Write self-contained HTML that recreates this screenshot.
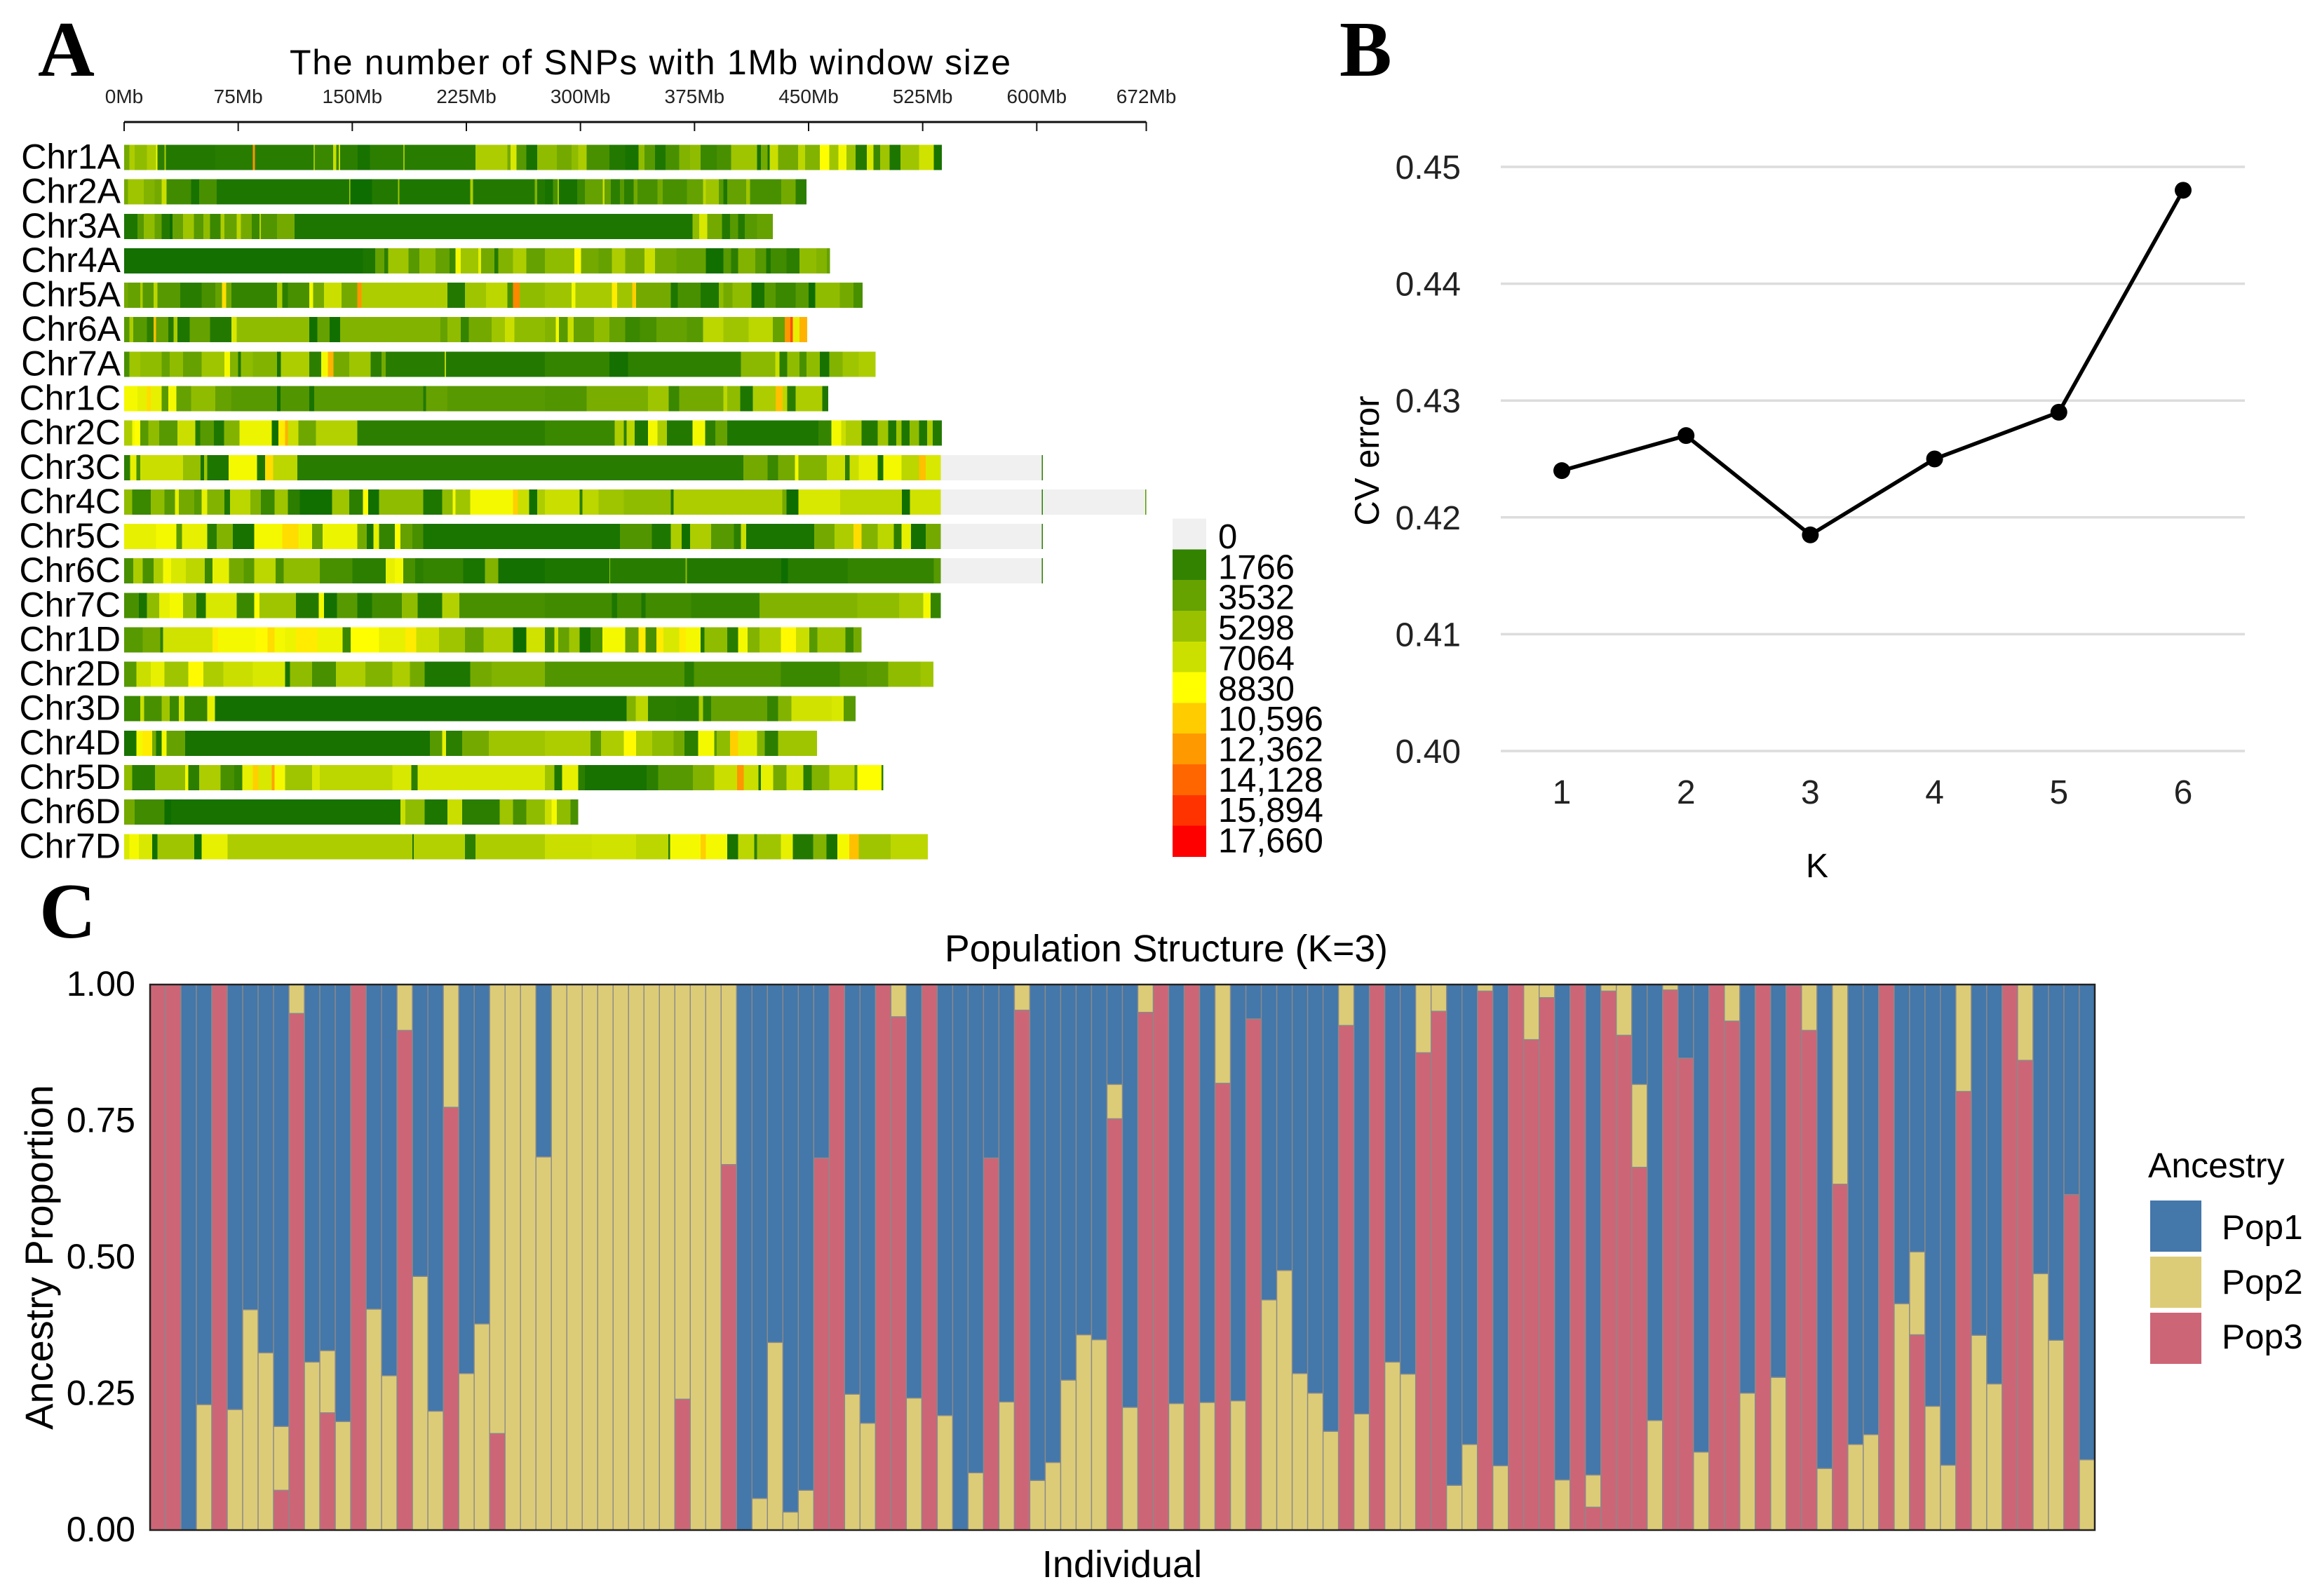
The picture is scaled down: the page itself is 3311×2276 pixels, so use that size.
<!DOCTYPE html>
<html lang="en">
<head>
<meta charset="utf-8">
<title>SNP density, CV error and population structure</title>
<style>
html,body{margin:0;padding:0;background:#fff;}
svg{display:block;font-family:"Liberation Sans",Arial,sans-serif;}
</style>
</head>
<body>
<svg id="figure" xmlns="http://www.w3.org/2000/svg" width="3311" height="2276" viewBox="0 0 3311 2276">
<rect x="0" y="0" width="3311" height="2276" fill="#fff"/>
<text x="54" y="108" font-family="'Liberation Serif',serif" font-weight="bold" font-size="112">A</text>
<text x="1910" y="108" font-family="'Liberation Serif',serif" font-weight="bold" font-size="112">B</text>
<text x="56" y="1337" font-family="'Liberation Serif',serif" font-weight="bold" font-size="112">C</text>
<g id="panelA">
<text x="927" y="106" text-anchor="middle" font-size="50" textLength="1028" lengthAdjust="spacing">The number of SNPs with 1Mb window size</text>
</g>
<g id="panelB">
<text x="2591" y="1251" text-anchor="middle" font-size="48">K</text>
<text transform="translate(1966,657) rotate(-90)" text-anchor="middle" font-size="49">CV error</text>
</g>
<g id="panelC">
<text x="1663" y="1371" text-anchor="middle" font-size="53.5">Population Structure (K=3)</text>
<text x="1600" y="2249" text-anchor="middle" font-size="54">Individual</text>
<text transform="translate(75,1793) rotate(-90)" text-anchor="middle" font-size="56">Ancestry Proportion</text>
<text x="3063" y="1679" font-size="50">Ancestry</text>
</g>
</svg>
<script>
/* ---------- Panel A: SNP density. Each run is [window end in Mb, SNP count in hundreds] ---------- */
const chromosomeNames = ["Chr1A","Chr2A","Chr3A","Chr4A","Chr5A","Chr6A","Chr7A","Chr1C","Chr2C","Chr3C","Chr4C","Chr5C","Chr6C","Chr7C","Chr1D","Chr2D","Chr3D","Chr4D","Chr5D","Chr6D","Chr7D"];
const mbTicks = [0,75,150,225,300,375,450,525,600,672];
const densityLegendValues = [0,17.66,35.32,52.98,70.64,88.3,105.96,123.62,141.28,158.94,176.6];
const densityLegendLabels = ["0","1766","3532","5298","7064","8830","10,596","12,362","14,128","15,894","17,660"];

const chr1A = [[3.5,40],[7,60],[15,50],[21,60],[22,85],[26.5,15],[27.5,60],[60,12],[84.5,14],[86,125],[124.5,14],[125.5,55],[137.5,20],[139.5,70],[141,20],[142,70],[153.5,15],[161.5,8],[183.5,15],[184.5,55],[231,14],[252,60],[254,40],[258,75],[264.5,30],[271.5,8],[284.5,50],[294.2,40],[298.6,50],[304,60],[319,25],[329.5,12],[338.3,8],[342,50],[349,30],[356,10],[365,25],[372,45],[379,50],[389.5,20],[399,25],[416,55],[418.6,8],[423,40],[424.4,8],[430,70],[443,40],[447.6,65],[457.4,45],[463.5,88],[469.7,55],[475,85],[481,55],[488.3,12],[492.6,75],[497,20],[503.3,55],[510.3,10],[522.6,55],[532.4,72],[537.6,8]];
const chr2A = [[2.6,40],[13,55],[20,45],[24.7,40],[28,70],[44,22],[49.4,8],[60.8,25],[148,10],[148.7,60],[163,5],[180,12],[181,55],[227.5,10],[229.3,60],[270,12],[271.6,45],[276.6,12],[282,8],[285,25],[285.8,60],[297.8,8],[303,20],[314.6,35],[315.8,70],[320,35],[326,15],[328.7,30],[335,15],[337.5,40],[350.7,25],[354,40],[370,25],[380.7,35],[382.4,65],[391,55],[394,30],[396.6,10],[409,35],[411.5,55],[432,25],[441.5,40],[448.6,15]];
const chr3A = [[8.8,10],[13,30],[20,50],[24.7,35],[30,12],[31.7,5],[38.8,35],[45.9,55],[52,30],[56.4,50],[63.5,20],[66,60],[74,35],[76.7,65],[83.8,40],[89,20],[90,65],[100.5,28],[112,40],[373.6,10],[378,50],[383.3,75],[393,40],[398.3,12],[403.6,30],[408,12],[416,30],[426.5,35]];
const chr4A = [[157,7],[165,10],[171,35],[173.7,15],[187,55],[194,30],[204.6,50],[214,35],[217.8,20],[221.3,85],[232.8,55],[234.6,80],[243.4,40],[246,12],[255.7,45],[264.5,60],[276.6,35],[296,50],[300.4,90],[312,40],[320.7,35],[329.5,60],[342,40],[349,70],[363,40],[382.4,35],[394,6],[399,30],[403.6,15],[415,45],[422,30],[425,10],[435.4,22],[444,15],[455,50],[462,45],[464,35]];
const chr5A = [[2.6,40],[10.6,35],[12.3,60],[19.4,30],[22,65],[37,30],[51,14],[60,25],[64.4,35],[67,100],[70.5,40],[100.5,18],[104,60],[107.6,15],[121.7,25],[124.3,85],[131.4,40],[142.9,70],[153.4,40],[156,125],[212.5,60],[224,12],[238,55],[252,65],[255.7,25],[260,130],[276.6,50],[281,55],[294.2,55],[296.8,85],[320.7,58],[324.2,95],[334,55],[336.6,105],[359.5,40],[364,10],[379,25],[391,10],[394,50],[400,40],[412.4,50],[421,8],[428.3,30],[441.5,20],[450,30],[454.4,5],[461,50],[470.6,50],[479.4,40],[485.6,25]];
const chr6A = [[3.5,30],[6,60],[15,30],[19.4,15],[21,110],[29,35],[32.6,12],[35,60],[43,10],[56.4,35],[70.5,12],[74,75],[121.7,50],[127,6],[135,35],[142,6],[170,45],[208,45],[212.5,35],[221.3,50],[226.6,18],[241.7,40],[250.4,55],[256.6,70],[276.6,50],[283.7,45],[285.8,85],[291.6,30],[295.6,70],[309,35],[319,50],[329.5,35],[339,20],[350,25],[370,35],[380.7,30],[394,65],[410.6,55],[426.5,65],[434.4,35],[438,125],[439.7,150],[444,80],[449,115]];
const chr7A = [[3.5,25],[10.6,55],[24.7,50],[30,35],[38.8,50],[51,35],[66,55],[69.7,85],[75,45],[76.7,10],[84.7,50],[100.5,45],[103,8],[121.7,60],[129.6,15],[134,85],[137.6,115],[148,40],[162,55],[169.3,15],[172,40],[210.8,14],[211.6,65],[276.6,12],[319,18],[331.3,7],[405.4,16],[428,48],[430.9,70],[436,15],[444,50],[448.5,25],[457.4,50],[463.5,8],[472.4,45],[483,55],[494,60]];
const chr1C = [[8.8,85],[15,80],[17.6,100],[24.7,80],[29,30],[34.4,85],[44,35],[60,50],[70.5,35],[100.5,30],[102.8,6],[121.7,28],[125,8],[196.6,30],[198.4,12],[212.5,35],[276.6,30],[304,28],[344.5,42],[358,55],[365,20],[382.4,40],[394,40],[396.6,65],[405,50],[413.4,10],[428.4,60],[433,110],[436,65],[441.5,14],[459,60],[463,10]];
const chr2C = [[5.3,60],[7,85],[10.6,88],[15.9,30],[23,50],[35,30],[46.7,70],[50,12],[59,30],[65.6,10],[75.8,45],[97,82],[101.4,6],[105.8,95],[107.6,115],[114.6,70],[126,38],[153.4,62],[276.6,15],[322.5,20],[328.6,60],[330.4,15],[335.7,65],[344.5,10],[350.7,85],[356.8,60],[373.6,12],[382,85],[388.6,15],[396.6,35],[456.5,10],[465,18],[471.5,85],[474.5,70],[484.7,60],[495.3,12],[502.3,55],[507.6,10],[511,55],[516.5,10],[522.6,50],[528,10],[531.5,60],[537.6,12]];
const chr3C = [[3.9,15],[8,80],[10.6,25],[38.8,70],[50.3,52],[52.6,8],[54.7,55],[68.8,10],[87.3,85],[92.6,10],[97.9,100],[113.8,65],[276.6,14],[407.1,14],[423,40],[430,20],[441,40],[443.3,85],[462,45],[474,70],[477,15],[483,70],[495.3,80],[499,8],[511,85],[522.6,65],[527,110],[537,75],[603.4,0],[604,14]];
const chr4C = [[5.3,50],[17.6,20],[26.5,50],[33.5,30],[36,80],[46,40],[51,30],[54.7,80],[66,45],[69.7,10],[83,65],[90,45],[98.8,20],[107.6,55],[115.5,15],[136.7,6],[148,55],[157,15],[160.5,90],[167.5,6],[196.6,50],[209,10],[216,50],[217.8,85],[227.5,55],[255.7,85],[259,105],[266.3,70],[271.6,6],[276.6,60],[299.5,70],[301.3,15],[312,65],[328.6,55],[359.5,50],[361.3,10],[432.8,60],[435.4,40],[443.4,5],[470.7,75],[511.3,65],[516.6,6],[537,72],[603.4,0],[604,14],[671.4,0],[672,30]];
const chr5C = [[21,80],[34.4,85],[38,30],[54.7,80],[60.8,14],[71.4,45],[85.5,8],[104,85],[114.6,100],[123.5,82],[130.5,35],[153.4,82],[159.6,40],[164,8],[167.5,80],[178,18],[181.7,88],[189.6,35],[196.6,25],[276.6,9],[326,9],[347,28],[359.5,10],[366.5,60],[372,6],[386,60],[401,30],[405.4,15],[409,70],[453.8,9],[467,40],[479.4,60],[484.7,100],[495.3,45],[506,65],[511,15],[517.4,80],[527,7],[537,40],[603.4,0],[604,14]];
const chr6C = [[6,25],[12.3,60],[19.4,25],[25.6,60],[30.9,85],[40.6,75],[53,65],[58,20],[69,80],[78.5,40],[85.5,30],[99.6,65],[105,25],[128.7,50],[150,25],[172,15],[178,80],[183.4,85],[191.3,25],[196.6,15],[223,18],[237.2,9],[246,45],[276.6,7],[319,10],[319.5,55],[369,14],[370,50],[432,12],[436.3,5],[475.9,14],[532.3,18],[537,30],[603.4,0],[604,14]];
const chr7C = [[9.7,25],[15,8],[23,50],[30,80],[38.8,85],[47.6,50],[53.8,10],[74,75],[85.5,20],[89,88],[98,55],[112.9,55],[127.9,12],[131.4,85],[140,7],[153.4,30],[163,10],[182.5,22],[193,50],[209,12],[220.5,62],[276.6,25],[320.7,22],[324.2,10],[340,22],[342.7,10],[372.7,22],[417.7,18],[482,45],[509.4,50],[525.3,58],[530.2,85],[537,18]];
const chr1D = [[12.3,30],[23.8,40],[25.6,15],[58,72],[61.7,95],[86.4,85],[94.4,90],[98.8,100],[105.8,85],[112.9,82],[127,95],[143.7,82],[149,20],[167.5,88],[185,80],[192,95],[207,70],[224,55],[236.3,35],[255.7,60],[264.5,5],[276.6,72],[282.8,20],[285.4,70],[292.5,35],[299.5,55],[306.6,8],[314.5,25],[329.5,85],[338.3,35],[342.7,95],[349.9,25],[354.5,95],[365,75],[369.2,95],[379,85],[381.5,10],[396.5,50],[403.6,14],[409.8,85],[417.8,45],[431.8,60],[441.7,90],[450.4,70],[455.7,30],[474.1,55],[479.4,20],[484.7,40]];
const chr2D = [[8,30],[17.6,70],[26.5,80],[42.3,55],[52,90],[65.3,60],[84.7,70],[105.8,75],[109,8],[123.5,50],[139.3,25],[147.3,60],[158.7,60],[176.4,45],[187.8,60],[197.5,40],[227.5,10],[241.6,40],[276.6,45],[368.3,28],[374.5,14],[431.8,28],[470.6,20],[488.2,28],[502.3,32],[523.5,50],[532,55]];
const chr3D = [[10.6,20],[13.2,70],[24.7,25],[30,55],[36,20],[39.7,75],[54.7,18],[59.6,80],[276.6,7],[330.4,7],[336.4,45],[344.3,65],[362.8,15],[377.9,14],[380.5,60],[385.8,15],[422.8,35],[429.9,18],[438.7,45],[465.3,72],[473,75],[481,30]];
const chr4D = [[8,8],[12.3,85],[18.5,95],[21,40],[24.7,10],[27.9,85],[40.2,35],[201,8],[209,30],[211.6,80],[222.2,15],[239.8,40],[276.6,55],[306.6,60],[313.6,30],[328.6,60],[336.6,90],[347.1,60],[361.3,50],[368.3,40],[377.4,15],[388,85],[389.6,30],[398.4,50],[403.6,105],[416,78],[421.2,45],[430,15],[455.6,55]];
const chr5D = [[5.3,50],[20.3,14],[40,50],[42.3,85],[49.4,15],[63.5,60],[72.3,25],[77.6,18],[84.7,80],[88.2,105],[97,75],[98.8,120],[105.8,85],[123.5,55],[128.7,75],[176.4,65],[188.7,75],[193,15],[276.6,75],[282.8,55],[288,10],[298.6,80],[303,15],[343.6,8],[351,15],[374,30],[388,45],[403,70],[407.3,125],[417,70],[418.6,10],[426.6,80],[435.4,40],[446.6,70],[452,14],[463.5,45],[480.3,65],[482,30],[498,88],[499,15]];
const chr6D = [[7,40],[26.5,22],[30.9,5],[181.7,8],[185,70],[197.5,50],[212.5,10],[222.2,70],[246.9,15],[255.7,55],[264.5,25],[276.6,50],[281,70],[284.5,85],[293.4,50],[298.6,25]];
const chr7D = [[3.5,75],[9.7,85],[18.5,75],[22,6],[46,55],[51,5],[68,80],[189.6,60],[190.5,10],[224,62],[231,15],[276.6,60],[307.5,70],[336.6,72],[357.7,65],[359,12],[378.9,85],[382.4,105],[396.5,85],[403.6,8],[414.2,65],[416,15],[431.8,55],[439.7,80],[452.9,12],[461.7,45],[468.8,8],[476.8,85],[483,110],[495.3,55],[504,55],[528.4,65]];
const chromosomeRuns = [chr1A,chr2A,chr3A,chr4A,chr5A,chr6A,chr7A,chr1C,chr2C,chr3C,chr4C,chr5C,chr6C,chr7C,chr1D,chr2D,chr3D,chr4D,chr5D,chr6D,chr7D];

/* ---------- Panel B: cross-validation error ---------- */
const kValues = [1,2,3,4,5,6];
const cvErrors = [0.424,0.427,0.4185,0.425,0.429,0.448];
const cvTicks = [0.40,0.41,0.42,0.43,0.44,0.45];

/* ---------- Panel C: ancestry proportion per individual ---------- */
const pop1Share = [0,0,1,.77,0,.779,.596,.675,.81,0,.692,.671,.801,0,.595,.717,0,.535,.782,0,.713,.622,0,0,0,.316,0,0,0,0,0,0,0,0,0,0,0,0,1,.942,.656,.967,.927,.318,0,.751,.804,0,0,.758,0,.79,1,.895,.318,.765,0,.909,.876,.725,.642,.651,.183,.775,0,0,.768,0,.766,0,.763,.063,.578,.524,.713,.749,.819,0,.787,0,.692,.714,0,0,.918,.843,0,.882,0,0,0,.908,0,.899,0,0,.183,.799,0,.135,.857,0,0,.749,0,.72,0,0,.887,0,.843,.825,0,.585,.49,.773,.881,0,.643,.732,0,0,.53,.652,.385,.871];
const pop2Share = [0,0,0,.23,0,.221,.404,.325,.117,.053,.308,.114,.199,0,.405,.283,.084,.465,.218,.225,.287,.378,.823,1,1,.684,1,1,1,1,1,1,1,1,.76,1,1,.33,0,.058,.344,.033,.073,0,0,.249,.196,0,.059,.242,0,.21,0,.105,0,.235,.047,.091,.124,.275,.358,.349,.063,.225,.051,0,.232,0,.234,.181,.237,0,.422,.476,.287,.251,.181,.075,.213,0,.308,.286,.125,.049,.082,.157,.012,.118,0,.101,.024,.092,0,.059,.012,.093,.152,.201,.01,0,.143,0,.067,.251,0,.28,.002,.084,.113,.366,.157,.175,0,.415,.152,.227,.119,.196,.357,.268,0,.139,.47,.348,0,.129];
const pop3Share = [1,1,0,0,1,0,0,0,.073,.947,0,.215,0,1,0,0,.916,0,0,.775,0,0,.177,0,0,0,0,0,0,0,0,0,0,0,.24,0,0,.67,0,0,0,0,0,.682,1,0,0,1,.941,0,1,0,0,0,.682,0,.953,0,0,0,0,0,.754,0,.949,1,0,1,0,.819,0,.937,0,0,0,0,0,.925,0,1,0,0,.875,.951,0,0,.988,0,1,.899,.976,0,1,.042,.988,.907,.665,0,.99,.865,0,1,.933,0,1,0,.998,.916,0,.634,0,0,1,0,.358,0,0,.804,0,0,1,.861,0,0,.615,0];
const ancestryTicks = [0,0.25,0.5,0.75,1];
const ancestryLabels = ["Pop1","Pop2","Pop3"];
const ancestryColors = ["#4477aa","#ddcc77","#cc6677"];

const SVG_NS = "http://www.w3.org/2000/svg";
function mk(tag, attrs, parent, content) {
  const el = document.createElementNS(SVG_NS, tag);
  for (const k in attrs) el.setAttribute(k, attrs[k]);
  if (content !== undefined) el.textContent = content;
  parent.appendChild(el);
  return el;
}
const panelA = document.getElementById("panelA");
const panelB = document.getElementById("panelB");
const panelC = document.getElementById("panelC");

/* Panel A scales */
const mbX = mb => 177 + mb * (1634.5 - 177) / 672;
const chromTop = i => 206.5 + i * 49.14;
const chromHeight = 36;
function snpColor(h) {
  if (h <= 0) return "#f0f0f0";
  const mid = 88.3;
  if (h <= mid) {
    const t = h / mid;
    return "rgb(" + Math.round(255 * t) + "," + Math.round(100 + 155 * t) + ",0)";
  }
  const t = Math.min(1, (h - mid) / mid);
  return "rgb(255," + Math.round(255 * (1 - t)) + ",0)";
}

const mbAxis = mk("line", {x1: mbX(0), x2: mbX(672), y1: 174, y2: 174, stroke: "#111", "stroke-width": 3}, panelA);


mbTicks.forEach(mb => {
  const tick = mk("line", {x1: mbX(mb), x2: mbX(mb), y1: 174, y2: 187, stroke: "#111", "stroke-width": 2}, panelA);
  
  
  const label = mk("text", {x: mbX(mb), y: 147, "text-anchor": "middle", "font-size": 28, fill: "#222"}, panelA, mb + "Mb");
  
  
});

chromosomeNames.forEach((name, i) => {
  const label = mk("text", {x: 172, y: chromTop(i) + chromHeight / 2 + 16, "text-anchor": "end", "font-size": 50}, panelA, name);
  
  
  let prev = 0;
  chromosomeRuns[i].forEach(run => {
    const cell = mk("rect", {x: mbX(prev), y: chromTop(i), width: mbX(run[0]) - mbX(prev), height: chromHeight, fill: snpColor(run[1]), "shape-rendering": "crispEdges"}, panelA);
    
    
    prev = run[0];
  });
});

const legendTop = 739.5, legendStep = 43.82, legendLabelStep = 43.35;
densityLegendValues.forEach((v, i) => {
  const swatch = mk("rect", {x: 1672, y: legendTop + i * legendStep, width: 48, height: legendStep + 0.5, fill: i === 0 ? "#f0f0f0" : snpColor(v), "shape-rendering": "crispEdges"}, panelA);
  
  
  const label = mk("text", {x: 1737, y: 782 + i * legendLabelStep, "font-size": 49}, panelA, densityLegendLabels[i]);
  
  
});

/* Panel B scales */
const cvX = k => 2227 + (k - 1) * (3113 - 2227) / 5;
const cvY = v => 1071 - (v - 0.40) * (1071 - 238) / 0.05;
cvTicks.forEach(t => {
  const grid = mk("line", {x1: 2140, x2: 3201, y1: cvY(t), y2: cvY(t), stroke: "#dcdcdc", "stroke-width": 3.5}, panelB);
  
  
  const label = mk("text", {x: 2083, y: cvY(t) + 17, "text-anchor": "end", "font-size": 48, fill: "#222"}, panelB, t.toFixed(2));
  
  
});
kValues.forEach(k => {
  const label = mk("text", {x: cvX(k), y: 1146, "text-anchor": "middle", "font-size": 48, fill: "#222"}, panelB, String(k));
  
  
});
const cvLine = mk("polyline", {points: kValues.map((k, i) => cvX(k) + "," + cvY(cvErrors[i])).join(" "), fill: "none", stroke: "#000", "stroke-width": 5.5, "stroke-linejoin": "round"}, panelB);


kValues.forEach((k, i) => {
  const dot = mk("circle", {cx: cvX(k), cy: cvY(cvErrors[i]), r: 12, fill: "#000"}, panelB);
  
  
});

/* Panel C scales */
const plotLeft = 214, plotRight = 2987, plotTop = 1404, plotBottom = 2182;
const barStep = (plotRight - plotLeft) / pop1Share.length;
const ancY = v => plotBottom - v * (plotBottom - plotTop);
pop1Share.forEach((_, i) => {
  const x = plotLeft + i * barStep;
  const segments = [[pop3Share[i], 2], [pop2Share[i], 1], [pop1Share[i], 0]];
  let base = 0;
  segments.forEach(seg => {
    if (seg[0] > 0) {
      const bar = mk("rect", {x: x, y: ancY(base + seg[0]), width: barStep, height: ancY(base) - ancY(base + seg[0]), fill: ancestryColors[seg[1]], stroke: "#8a8a8a", "stroke-width": 1.4}, panelC);
      
      
    }
    base += seg[0];
  });
});
const frame = mk("rect", {x: plotLeft, y: plotTop, width: plotRight - plotLeft, height: plotBottom - plotTop, fill: "none", stroke: "#222", "stroke-width": 2.5}, panelC);


ancestryTicks.forEach(t => {
  const label = mk("text", {x: 193, y: ancY(t) + 16, "text-anchor": "end", "font-size": 50.5}, panelC, t.toFixed(2));
  
  
});
ancestryLabels.forEach((name, i) => {
  const swatch = mk("rect", {x: 3066, y: 1712 + i * 80, width: 73, height: 73, fill: ancestryColors[i]}, panelC);
  
  
  const label = mk("text", {x: 3168, y: 1767 + i * 78, "font-size": 49.5}, panelC, name);
  
  
});
</script>
</body>
</html>
